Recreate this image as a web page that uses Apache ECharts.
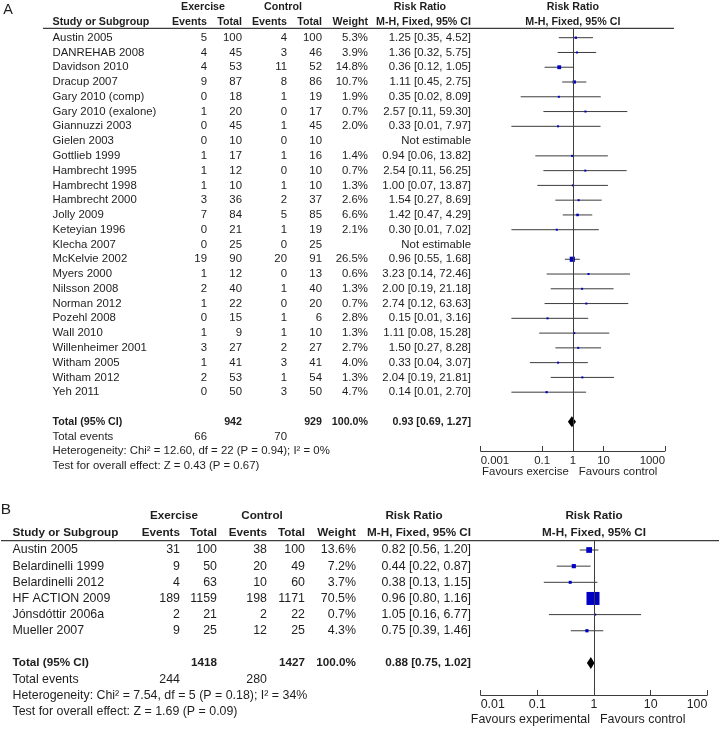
<!DOCTYPE html>
<html>
<head>
<meta charset="utf-8">
<script src="https://cdn.jsdelivr.net/npm/echarts@6/dist/echarts.min.js"></script>
<style>
html, body { margin: 0; padding: 0; background: #fff; }
#main { width: 720px; height: 731px; }
</style>
</head>
<body>
<div id="main"></div>
<script>
// ---------- panel A : all-cause mortality ----------
var studyA = ['Austin 2005', 'DANREHAB 2008', 'Davidson 2010', 'Dracup 2007', 'Gary 2010 (comp)',
    'Gary 2010 (exalone)', 'Giannuzzi 2003', 'Gielen 2003', 'Gottlieb 1999', 'Hambrecht 1995',
    'Hambrecht 1998', 'Hambrecht 2000', 'Jolly 2009', 'Keteyian 1996', 'Klecha 2007',
    'McKelvie 2002', 'Myers 2000', 'Nilsson 2008', 'Norman 2012', 'Pozehl 2008',
    'Wall 2010', 'Willenheimer 2001', 'Witham 2005', 'Witham 2012', 'Yeh 2011'];
var exEventsA = [5, 4, 4, 9, 0, 1, 0, 0, 1, 1, 1, 3, 7, 0, 0, 19, 1, 2, 1, 0, 1, 3, 1, 2, 0];
var exTotalA  = [100, 45, 53, 87, 18, 20, 45, 10, 17, 12, 10, 36, 84, 21, 25, 90, 12, 40, 22, 15, 9, 27, 41, 53, 50];
var ctEventsA = [4, 3, 11, 8, 1, 0, 1, 0, 1, 0, 1, 2, 5, 1, 0, 20, 0, 1, 0, 1, 1, 2, 3, 1, 3];
var ctTotalA  = [100, 46, 52, 86, 19, 17, 45, 10, 16, 10, 10, 37, 85, 19, 25, 91, 13, 40, 20, 6, 10, 27, 41, 54, 50];
var weightA = [5.3, 3.9, 14.8, 10.7, 1.9, 0.7, 2.0, null, 1.4, 0.7, 1.3, 2.6, 6.6, 2.1, null,
    26.5, 0.6, 1.3, 0.7, 2.8, 1.3, 2.7, 4.0, 1.3, 4.7];
var rrA = [1.25, 1.36, 0.36, 1.11, 0.35, 2.57, 0.33, null, 0.94, 2.54, 1.00, 1.54, 1.42, 0.30, null,
    0.96, 3.23, 2.00, 2.74, 0.15, 1.11, 1.50, 0.33, 2.04, 0.14];
var loA = [0.35, 0.32, 0.12, 0.45, 0.02, 0.11, 0.01, null, 0.06, 0.11, 0.07, 0.27, 0.47, 0.01, null,
    0.55, 0.14, 0.19, 0.12, 0.01, 0.08, 0.27, 0.04, 0.19, 0.01];
var hiA = [4.52, 5.75, 1.05, 2.75, 8.09, 59.30, 7.97, null, 13.82, 56.25, 13.87, 8.69, 4.29, 7.02, null,
    1.68, 72.46, 21.18, 63.63, 3.16, 15.28, 8.28, 3.07, 21.81, 2.70];
var totalsA = [942, 929];
var totalEventsA = [66, 70];
var pooledA = [0.93, 0.69, 1.27];
var hetA = 'Heterogeneity: Chi\u00b2 = 12.60, df = 22 (P = 0.94); I\u00b2 = 0%';
var testA = 'Test for overall effect: Z = 0.43 (P = 0.67)';
var ticksA = [0.001, 0.1, 1, 10, 1000];

// ---------- panel B ----------
var studyB = ['Austin 2005', 'Belardinelli 1999', 'Belardinelli 2012', 'HF ACTION 2009', 'J\u00f3nsd\u00f3ttir 2006a', 'Mueller 2007'];
var exEventsB = [31, 9, 4, 189, 2, 9];
var exTotalB  = [100, 50, 63, 1159, 21, 25];
var ctEventsB = [38, 20, 10, 198, 2, 12];
var ctTotalB  = [100, 49, 60, 1171, 22, 25];
var weightB = [13.6, 7.2, 3.7, 70.5, 0.7, 4.3];
var rrB = [0.82, 0.44, 0.38, 0.96, 1.05, 0.75];
var loB = [0.56, 0.22, 0.13, 0.80, 0.16, 0.39];
var hiB = [1.20, 0.87, 1.15, 1.16, 6.77, 1.46];
var totalsB = [1418, 1427];
var totalEventsB = [244, 280];
var pooledB = [0.88, 0.75, 1.02];
var hetB = 'Heterogeneity: Chi\u00b2 = 7.54, df = 5 (P = 0.18); I\u00b2 = 34%';
var testB = 'Test for overall effect: Z = 1.69 (P = 0.09)';
var ticksB = [0.01, 0.1, 1, 10, 100];

var FONT = "'Liberation Sans', Arial, Helvetica, sans-serif";
var INK = '#1e1e1e';
var LINE = '#3c3c3c';
var BOX = '#0000c4';

// layout of the two panels (pixels)
var panels = [
    {
        letter: 'A', letterX: 8, letterY: 10, fs: 11.4, fsb: 10.7,
        row0: 37.7, step: 14.77, top: 28.3, axisY: 451, plotL: 480.7, plotR: 665,
        ruleX: [43, 674], head1: 6.7, head2: 21.7, box: 1.0, diam: 5.5, favDy: 21,
        cols: {name: 52.5, exEv: 207, exTot: 242, ctEv: 287, ctTot: 322, wt: 368, ci: 471},
        grp: {ex: 203, ct: 283, rr: 420},
        fav: ['Favours exercise', 'Favours control'],
        study: studyA, exE: exEventsA, exT: exTotalA, ctE: ctEventsA, ctT: ctTotalA,
        w: weightA, rr: rrA, lo: loA, hi: hiA, totals: totalsA, tev: totalEventsA,
        pooled: pooledA, het: hetA, test: testA, ticks: ticksA
    },
    {
        letter: 'B', letterX: 6, letterY: 510, fs: 12.4, fsb: 11.7,
        row0: 550, step: 16.15, top: 540.7, axisY: 695, plotL: 480.7, plotR: 707.3,
        ruleX: [1, 719], head1: 516, head2: 533, box: 1.55, diam: 6, favDy: 25,
        cols: {name: 12.5, exEv: 180, exTot: 217, ctEv: 267, ctTot: 305, wt: 356, ci: 471},
        grp: {ex: 174, ct: 262, rr: 414},
        fav: ['Favours experimental', 'Favours control'],
        study: studyB, exE: exEventsB, exT: exTotalB, ctE: ctEventsB, ctT: ctTotalB,
        w: weightB, rr: rrB, lo: loB, hi: hiB, totals: totalsB, tev: totalEventsB,
        pooled: pooledB, het: hetB, test: testB, ticks: ticksB
    }
];

function ci(r, l, h) {
    return r.toFixed(2) + ' [' + l.toFixed(2) + ', ' + h.toFixed(2) + ']';
}
function fmtTick(v) {
    return String(parseFloat(Number(v).toPrecision(3)));
}

// table rows for one panel: {row, cells:[{t, x, a, b}]}
function buildRows(p) {
    var c = p.cols, rows = [];
    for (var i = 0; i < p.study.length; i++) {
        rows.push({row: i, cells: [
            {t: p.study[i], x: c.name, a: 'left'},
            {t: String(p.exE[i]), x: c.exEv, a: 'right'},
            {t: String(p.exT[i]), x: c.exTot, a: 'right'},
            {t: String(p.ctE[i]), x: c.ctEv, a: 'right'},
            {t: String(p.ctT[i]), x: c.ctTot, a: 'right'},
            {t: p.w[i] == null ? '' : p.w[i].toFixed(1) + '%', x: c.wt, a: 'right'},
            {t: p.rr[i] == null ? 'Not estimable' : ci(p.rr[i], p.lo[i], p.hi[i]), x: c.ci, a: 'right'}
        ]});
    }
    var n = p.study.length;
    rows.push({row: n + 1, cells: [
        {t: 'Total (95% CI)', x: c.name, a: 'left', b: true},
        {t: String(p.totals[0]), x: c.exTot, a: 'right', b: true},
        {t: String(p.totals[1]), x: c.ctTot, a: 'right', b: true},
        {t: '100.0%', x: c.wt, a: 'right', b: true},
        {t: ci(p.pooled[0], p.pooled[1], p.pooled[2]), x: c.ci, a: 'right', b: true}
    ]});
    rows.push({row: n + 2, cells: [
        {t: 'Total events', x: c.name, a: 'left'},
        {t: String(p.tev[0]), x: c.exEv, a: 'right'},
        {t: String(p.tev[1]), x: c.ctEv, a: 'right'}
    ]});
    rows.push({row: n + 3, cells: [{t: p.het, x: c.name, a: 'left'}]});
    rows.push({row: n + 4, cells: [{t: p.test, x: c.name, a: 'left'}]});
    // favours labels sit under the axis, either side of RR = 1
    rows.push({row: (p.axisY + p.favDy - p.row0) / p.step, fav: true, cells: [
        {t: p.fav[0], dx: -4, a: 'right'},
        {t: p.fav[1], dx: 6, a: 'left'}
    ]});
    return rows;
}

var grids = [], xAxes = [], yAxes = [], series = [], graphics = [];

panels.forEach(function (p, k) {
    grids.push({left: p.plotL, top: p.top, width: p.plotR - p.plotL, height: p.axisY - p.top});
    xAxes.push({
        type: 'log', logBase: 10, gridIndex: k, min: p.ticks[0], max: p.ticks[p.ticks.length - 1],
        position: 'bottom',
        axisLine: {show: true, onZero: false, lineStyle: {color: LINE, width: 1}},
        axisTick: {show: true, inside: true, length: 5, customValues: p.ticks, lineStyle: {color: LINE}},
        axisLabel: {show: true, customValues: p.ticks, margin: 4, color: INK, fontFamily: FONT,
            fontSize: p.fs, alignMinLabel: 'left', alignMaxLabel: 'right', formatter: fmtTick},
        splitLine: {show: false}
    });
    yAxes.push({
        type: 'value', gridIndex: k, inverse: true, show: false,
        min: (p.top - p.row0) / p.step, max: (p.axisY - p.row0) / p.step
    });

    var rows = buildRows(p);
    series.push({
        type: 'custom', xAxisIndex: k, yAxisIndex: k, silent: true, clip: false,
        data: rows.map(function (r) { return [1, r.row]; }),
        renderItem: function (params, api) {
            var r = rows[params.dataIndex];
            var pt = api.coord([1, r.row]);
            return {
                type: 'group',
                children: r.cells.map(function (c) {
                    return {
                        type: 'text',
                        x: r.fav ? pt[0] + c.dx : c.x,
                        y: pt[1],
                        style: {
                            text: c.t, textAlign: c.a, textVerticalAlign: 'middle', fill: INK,
                            font: (c.b ? 'bold ' + p.fsb : p.fs) + 'px ' + FONT
                        }
                    };
                })
            };
        }
    });

    // study estimates: CI line + weighted square
    var est = [];
    for (var i = 0; i < p.study.length; i++) {
        if (p.rr[i] != null) est.push([p.rr[i], p.lo[i], p.hi[i], i, p.w[i]]);
    }
    series.push({
        type: 'custom', xAxisIndex: k, yAxisIndex: k, silent: true, clip: false,
        data: est,
        encode: {x: [0, 1, 2], y: 3},
        renderItem: function (params, api) {
            var row = api.value(3);
            var c = api.coord([api.value(0), row]);
            var l = api.coord([api.value(1), row]);
            var h = api.coord([api.value(2), row]);
            var s = Math.max(2, p.box * Math.sqrt(api.value(4)));
            return {
                type: 'group',
                children: [
                    {type: 'line', shape: {x1: l[0], y1: l[1], x2: h[0], y2: h[1]},
                        style: {stroke: LINE, lineWidth: 1}},
                    {type: 'rect', shape: {x: c[0] - s / 2, y: c[1] - s / 2, width: s, height: s},
                        style: {fill: BOX}}
                ]
            };
        },
        markLine: {
            silent: true, symbol: 'none', label: {show: false},
            lineStyle: {color: LINE, width: 1, type: 'solid'},
            data: [{xAxis: 1}]
        }
    });

    // pooled diamond
    series.push({
        type: 'custom', xAxisIndex: k, yAxisIndex: k, silent: true, clip: false,
        data: [[p.pooled[0], p.pooled[1], p.pooled[2], p.study.length + 1]],
        encode: {x: [0, 1, 2], y: 3},
        renderItem: function (params, api) {
            var row = api.value(3);
            var c = api.coord([api.value(0), row]);
            var l = api.coord([api.value(1), row]);
            var h = api.coord([api.value(2), row]);
            return {
                type: 'polygon',
                shape: {points: [[l[0], c[1]], [c[0], c[1] - p.diam], [h[0], c[1]], [c[0], c[1] + p.diam]]},
                style: {fill: '#000'}
            };
        }
    });

    // panel letter, column headers, header rule
    function hdr(t, x, y, align, bold) {
        graphics.push({
            type: 'text', x: x, y: y, silent: true,
            style: {text: t, textAlign: align, textVerticalAlign: 'middle', fill: INK,
                font: (bold ? 'bold ' + p.fsb : p.fs) + 'px ' + FONT}
        });
    }
    graphics.push({
        type: 'text', x: p.letterX, y: p.letterY, silent: true,
        style: {text: p.letter, textAlign: 'center', textVerticalAlign: 'middle', fill: INK,
            font: (p.fs + 3) + 'px ' + FONT}
    });
    var c = p.cols;
    var one = p.plotL + (p.plotR - p.plotL) * (0 - Math.log10(p.ticks[0])) /
        (Math.log10(p.ticks[p.ticks.length - 1]) - Math.log10(p.ticks[0]));
    hdr('Exercise', p.grp.ex, p.head1, 'center', true);
    hdr('Control', p.grp.ct, p.head1, 'center', true);
    hdr('Risk Ratio', p.grp.rr, p.head1, 'center', true);
    hdr('Risk Ratio', one, p.head1, 'center', true);
    hdr('Study or Subgroup', c.name, p.head2, 'left', true);
    hdr('Events', c.exEv, p.head2, 'right', true);
    hdr('Total', c.exTot, p.head2, 'right', true);
    hdr('Events', c.ctEv, p.head2, 'right', true);
    hdr('Total', c.ctTot, p.head2, 'right', true);
    hdr('Weight', c.wt, p.head2, 'right', true);
    hdr('M-H, Fixed, 95% CI', c.ci, p.head2, 'right', true);
    hdr('M-H, Fixed, 95% CI', one, p.head2, 'center', true);
    graphics.push({
        type: 'line', silent: true,
        shape: {x1: p.ruleX[0], y1: p.top, x2: p.ruleX[1], y2: p.top},
        style: {stroke: LINE, lineWidth: 1.2}
    });
});

var chart = echarts.init(document.getElementById('main'), null, {renderer: 'canvas'});
chart.setOption({
    animation: false,
    backgroundColor: '#fff',
    grid: grids,
    xAxis: xAxes,
    yAxis: yAxes,
    series: series,
    graphic: graphics
});
</script>
</body>
</html>
